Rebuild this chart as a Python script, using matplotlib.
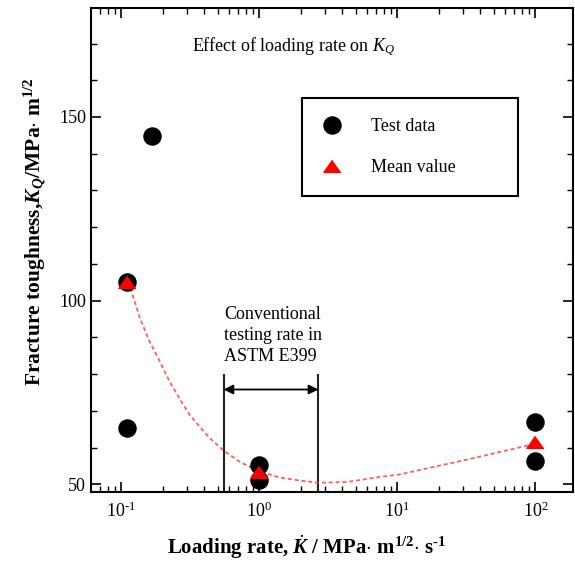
import numpy as np
import matplotlib
matplotlib.use("Agg")
import matplotlib.pyplot as plt
from matplotlib.ticker import MultipleLocator, FixedLocator, FuncFormatter

plt.rcParams['font.family'] = ['Liberation Serif', 'DejaVu Serif']
plt.rcParams['mathtext.fontset'] = 'custom'
plt.rcParams['mathtext.rm'] = 'Liberation Serif'
plt.rcParams['mathtext.it'] = 'Liberation Serif:italic'
plt.rcParams['mathtext.bf'] = 'Liberation Serif:bold'
plt.rcParams['mathtext.bfit'] = 'Liberation Serif:italic:bold'
plt.rcParams['axes.unicode_minus'] = False

# test data (loading rate, K_Q)
test_rate = [0.11, 0.11, 0.168, 1.0, 1.0, 100, 100]
test_kq = [105, 65.2, 144.9, 55.2, 51.1, 66.9, 56.3]

# mean values
mean_rate = [0.11, 1.0, 100]
mean_kq = [105, 53.4, 61.6]

# fitted trend line
fit_rate = [0.11, 0.119, 0.137, 0.161, 0.191, 0.225, 0.274, 0.315, 0.372, 0.44,
            0.548, 0.724, 0.957, 1.41, 2.08, 2.68, 4.3, 7.5, 10.5, 18.2,
            31.8, 55.5, 89, 100]
fit_kq = [105, 102.4, 95.2, 88.8, 83.4, 77.9, 72.4, 68.8, 65.6, 62.5,
          59.3, 56.1, 53.8, 51.8, 50.9, 50.4, 50.6, 52.0, 52.7, 54.7,
          56.7, 58.8, 60.6, 61.4]

# ASTM E399 conventional range
astm_lo, astm_hi = 0.552, 2.68
astm_top, arrow_y = 80, 75.8


def dec_label(v, pos):
    # hyphen instead of the long math minus, like the original
    e = int(round(np.log10(v)))
    if e < 0:
        return r'10$^{\text{-%d}}$' % (-e)
    return r'10$^{%d}$' % e


fig = plt.figure(figsize=(5.75, 5.62), dpi=100)
ax = fig.add_axes([0.158, 0.1246, 0.8385, 0.862])

ax.plot(fit_rate, fit_kq, color='#ff4040', lw=1.3, ls=(0, (2.2, 1.6)), alpha=0.85, zorder=2)
ax.plot(test_rate, test_kq, 'o', color='black', ms=12.3, ls='none', zorder=3, label='Test data')
tri = [(0, 0.95), (-1.3, -0.9), (1.3, -0.9)]
ax.plot(mean_rate, mean_kq, marker=tri, color='red', ms=12.3, ls='none', zorder=4, label='Mean value')

ax.set_xscale('log')
ax.set_xlim(0.0604, 187)
ax.set_ylim(47.9, 179.8)
ax.xaxis.set_major_formatter(FuncFormatter(dec_label))

ax.vlines([astm_lo, astm_hi], 47.9, astm_top, color='#222222', lw=1.5, zorder=1)
ax.annotate('', xy=(astm_hi, arrow_y), xytext=(astm_lo, arrow_y),
            arrowprops=dict(arrowstyle='<|-|>', color='black', lw=1.3,
                            mutation_scale=14, shrinkA=0, shrinkB=0))
ax.text(0.558, 98.6, 'Conventional\ntesting rate in\nASTM E399', fontsize=13,
        va='top', ha='left', linespacing=1.33)

ax.text(0.2106, 0.919, 'Effect of loading rate on $K_Q$', transform=ax.transAxes,
        fontsize=13, va='center', ha='left')

ax.yaxis.set_major_locator(FixedLocator([50, 100, 150]))
ax.yaxis.set_minor_locator(MultipleLocator(10))
ax.tick_params(which='both', direction='in', top=True, right=True, labelsize=13)
ax.tick_params(which='major', length=7, width=1.2)
ax.tick_params(which='minor', length=4, width=1.0)
ax.tick_params(axis='x', pad=7)
for s in ax.spines.values():
    s.set_linewidth(1.5)

ax.set_xlabel(r'Loading rate, $\dot{\mathbfit{K}}$ / MPa$\cdot$ m$^{\mathbf{1/2}}$$\cdot$ s$^{\mathbf{\text{-}1}}$',
              fontsize=15, fontweight='bold', labelpad=9)
ax.set_ylabel(r'Fracture toughness,$\mathbfit{K}_{\mathbfit{Q}}$/MPa$\cdot$ m$^{\mathbf{1/2}}$',
              fontsize=15.5, fontweight='bold', labelpad=8)
ax.xaxis.label.set_x(0.447)
ax.yaxis.label.set_y(0.537)

leg = ax.legend(loc='upper left', bbox_to_anchor=(0.438, 0.615, 0.448, 0.198), mode='expand',
                fontsize=13, frameon=True, fancybox=False, edgecolor='black', framealpha=1,
                borderpad=1.1, labelspacing=1.35, handlelength=1.1, handletextpad=1.6,
                borderaxespad=0)
leg.get_frame().set_linewidth(1.5)

fig.savefig('out.png', dpi=100)
